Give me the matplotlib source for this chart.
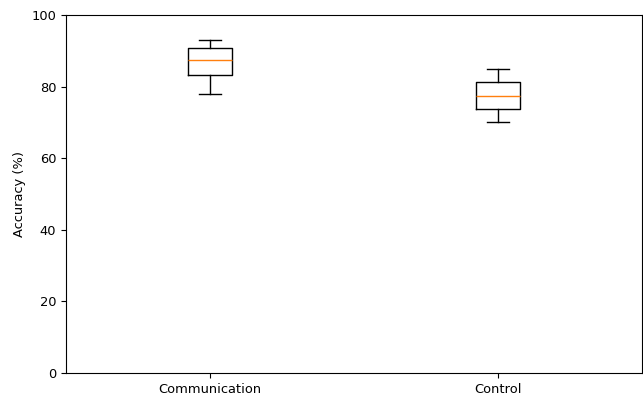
import matplotlib
matplotlib.use("Agg")
import matplotlib.pyplot as plt

# Accuracy summary per group (percent)
groups = ["Communication", "Control"]
whisker_low = [78.0, 70.0]
q1 = [83.3, 73.8]
median = [87.5, 77.4]
q3 = [90.7, 81.3]
whisker_high = [93.0, 85.0]

stats = [
    {"label": g, "whislo": lo, "q1": a, "med": m, "q3": b, "whishi": hi, "fliers": []}
    for g, lo, a, m, b, hi in zip(groups, whisker_low, q1, median, q3, whisker_high)
]

plt.rcParams["font.size"] = 9.4

fig = plt.figure(figsize=(6.43, 3.94), dpi=100)
ax = fig.add_axes([66 / 643, 21 / 394, 576 / 643, 358 / 394])
ax.bxp(stats, positions=[1, 2], widths=0.15)
ax.set_xlim(0.5, 2.5)
ax.set_ylim(0, 100)
ax.set_ylabel("Accuracy (%)")

fig.savefig("out.png", dpi=100)
